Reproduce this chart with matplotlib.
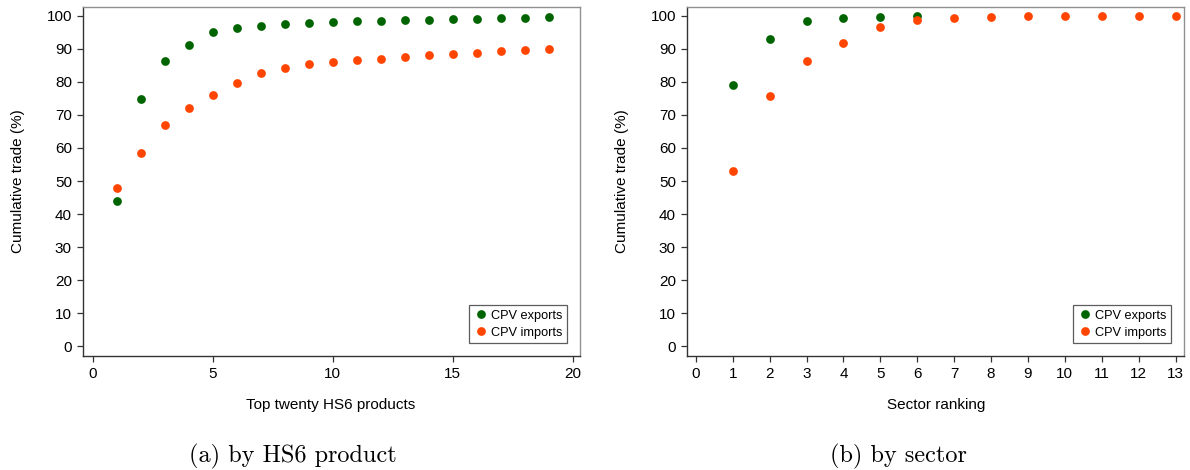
import numpy as np
import matplotlib.pyplot as plt

# 데이터
hs6_rank = list(range(1, 20))
hs6_exports = [43.8, 74.7, 86.3, 91.3, 95.0, 96.2, 96.9, 97.4, 97.8, 98.1,
               98.4, 98.6, 98.7, 98.9, 99.1, 99.2, 99.3, 99.5, 99.6]
hs6_imports = [47.9, 58.5, 67.0, 72.2, 76.1, 79.7, 82.7, 84.2, 85.3, 85.9,
               86.6, 87.1, 87.6, 88.1, 88.5, 88.9, 89.3, 89.7, 90.0]

sec_rank_exp = [1, 2, 3, 4, 5, 6]
sec_exports = [79.0, 93.1, 98.4, 99.4, 99.8, 100.0]
sec_rank_imp = list(range(1, 14))
sec_imports = [52.9, 75.6, 86.2, 91.8, 96.7, 98.9, 99.3, 99.7, 99.9, 99.95,
               100.0, 100.0, 100.0]

GREEN = '#006400'
ORANGE = '#FF4500'

plt.rcParams['font.family'] = ['Liberation Sans', 'DejaVu Sans']

fig = plt.figure(figsize=(11.9, 4.7), dpi=100)
ax1 = fig.add_axes([83/1190, 1-356/470, 497/1190, 349/470])
ax2 = fig.add_axes([687/1190, 1-356/470, 497/1190, 349/470])


def style(ax):
    for s in ['top', 'right']:
        ax.spines[s].set_color('#909090')
        ax.spines[s].set_linewidth(1.0)
    for s in ['left', 'bottom']:
        ax.spines[s].set_color('#333333')
        ax.spines[s].set_linewidth(1.0)
    ax.tick_params(direction='out', length=4.5, width=0.9, color='#333333',
                   labelsize=11, pad=3.5)
    ax.set_ylim(-3, 102.7)
    ax.set_yticks(np.arange(0, 101, 10))
    leg = ax.legend(loc='lower right', fontsize=9.2, frameon=True, fancybox=False,
                    borderpad=0.35, handletextpad=0.2, labelspacing=0.4,
                    handlelength=1.2, borderaxespad=1.0)
    leg.get_frame().set_edgecolor('#333333')
    leg.get_frame().set_linewidth(0.9)


ax1.plot(hs6_rank, hs6_exports, 'o', color=GREEN, markersize=6.3, mec='none', label='CPV exports')
ax1.plot(hs6_rank, hs6_imports, 'o', color=ORANGE, markersize=6.3, mec='none', label='CPV imports')
ax1.set_xlim(-0.4, 20.3)
ax1.set_xticks([0, 5, 10, 15, 20])
style(ax1)

ax2.plot(sec_rank_exp, sec_exports, 'o', color=GREEN, markersize=6.3, mec='none', label='CPV exports')
ax2.plot(sec_rank_imp, sec_imports, 'o', color=ORANGE, markersize=6.3, mec='none', label='CPV imports')
ax2.set_xlim(-0.24, 13.23)
ax2.set_xticks(range(0, 14))
style(ax2)

# 축 제목
fig.text(18/1190, 1-181/470, 'Cumulative trade (%)', rotation=90, ha='center', va='center', fontsize=11)
fig.text(622/1190, 1-181/470, 'Cumulative trade (%)', rotation=90, ha='center', va='center', fontsize=11)
fig.text(331/1190, 1-405/470, 'Top twenty HS6 products', ha='center', va='center', fontsize=11)
fig.text(936/1190, 1-405/470, 'Sector ranking', ha='center', va='center', fontsize=11)

# 캡션
fig.text(293/1190, 1-456/470, '(a) by HS6 product', ha='center', va='center', fontsize=17.5, family='cmr10')
fig.text(898/1190, 1-456/470, '(b) by sector', ha='center', va='center', fontsize=17.5, family='cmr10')

fig.savefig('out.png', dpi=100)
